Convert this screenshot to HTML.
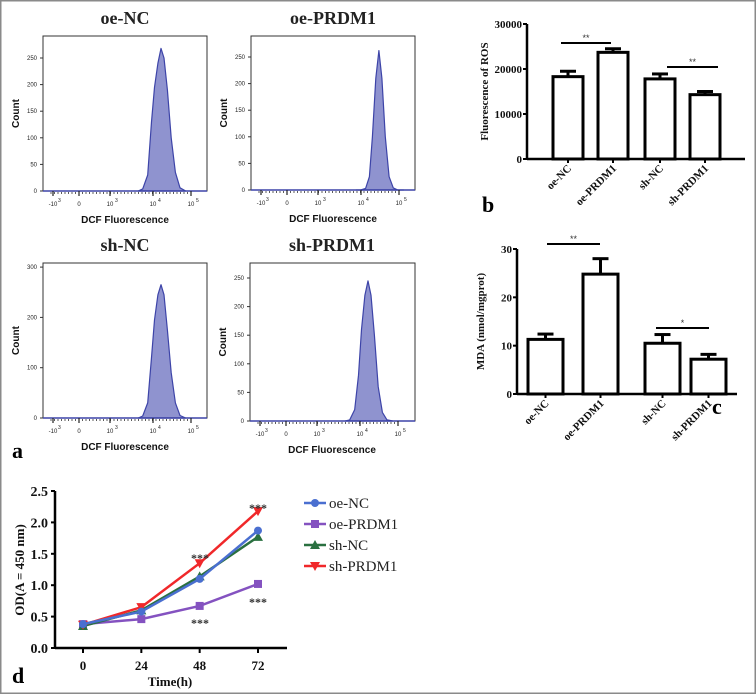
<!DOCTYPE html>
<html><head><meta charset="utf-8"><style>
html,body{margin:0;padding:0;background:#fff}
svg{display:block}
.h{font-family:"Liberation Sans",sans-serif}
.s{font-family:"Liberation Serif",serif;font-weight:bold}
</style></head><body>
<svg id="fig" width="756" height="694" viewBox="0 0 756 694">
<rect x="0.75" y="0.75" width="754.5" height="692.5" fill="#fff" stroke="#8a8a8a" stroke-width="1.5"/>
<g id="hist"></g><g id="bars"></g><g id="line"></g>
<text x="12" y="458" class="s" font-size="22">a</text>
<text x="482" y="212" class="s" font-size="22">b</text>
<text x="712" y="414" class="s" font-size="22">c</text>
<text x="12" y="683" class="s" font-size="22">d</text>
</svg>
<script>
const NS='http://www.w3.org/2000/svg';
function mk(p,t,a,txt){const e=document.createElementNS(NS,t);for(const k in a)e.setAttribute(k,a[k]);if(txt!==undefined)e.textContent=txt;p.appendChild(e);return e;}

// ---- Histogram data ----
const histTitles=['oe-NC','oe-PRDM1','sh-NC','sh-PRDM1'];
const histPeakLog=[4.21,4.47,4.21,4.21];
const histOffsets=[-0.6,-0.48,-0.35,-0.25,-0.17,-0.08,0,0.08,0.17,0.27,0.38,0.5,0.65];
const histCountsOeNC=[0,4,30,130,195,240,268,250,190,100,35,6,0];
const histCountsOePRDM1=[0,0,3,25,100,210,262,210,100,25,4,0,0];
const histCountsShNC=[0,4,30,120,195,245,265,245,175,90,30,5,0];
const histCountsShPRDM1=[0,2,20,80,160,220,245,220,150,60,15,2,0];
const histYTicksA=[0,50,100,150,200,250];
const histYTicksB=[0,100,200,300];
const histXTickLabels=['-10','0','10','10','10'];
const histXTickExp=['3','','3','4','5'];

const H=document.getElementById('hist');
const boxes=[{x:43,y:36,w:164,b:191,tk:histYTicksA,per:26.6/50,c:histCountsOeNC},
 {x:251,y:36,w:164,b:190,tk:histYTicksA,per:26.6/50,c:histCountsOePRDM1},
 {x:43,y:263,w:164,b:418,tk:histYTicksB,per:50.3/100,c:histCountsShNC},
 {x:250,y:263,w:165,b:421,tk:histYTicksA,per:28.6/50,c:histCountsShPRDM1}];
boxes.forEach((bx,i)=>{
  const g=mk(H,'g',{});
  
  
  const xLog=v=>bx.x+110+(v-4)*38;
  const yC=c=>bx.b-c*bx.per;
  mk(g,'text',{x:bx.x+82,y:bx.y-12,'text-anchor':'middle',class:'s','font-size':18,fill:'#222'},histTitles[i]);
  mk(g,'rect',{x:bx.x,y:bx.y,width:bx.w,height:bx.b-bx.y,fill:'none',stroke:'#333','stroke-width':1});
  let d='M'+xLog(histPeakLog[i]+histOffsets[0])+','+bx.b;
  bx.c.forEach((c,j)=>{d+=' L'+xLog(histPeakLog[i]+histOffsets[j]).toFixed(1)+','+yC(c).toFixed(1);});
  d+=' L'+xLog(histPeakLog[i]+histOffsets[histOffsets.length-1])+','+bx.b+'Z';
  const p=mk(g,'path',{d:d,fill:'#8f93cf',stroke:'#3d44a8','stroke-width':1.2,'stroke-linejoin':'round'});
  
  
  mk(g,'line',{x1:bx.x,y1:bx.b,x2:bx.x+bx.w,y2:bx.b,stroke:'#3d44a8','stroke-width':1.5});
  bx.tk.forEach(t=>{const y=yC(t);mk(g,'line',{x1:bx.x-3,y1:y,x2:bx.x,y2:y,stroke:'#333'});
    mk(g,'text',{x:bx.x-6,y:y+2,'text-anchor':'end',class:'h','font-size':6,fill:'#222'},t);});
  mk(g,'text',{x:bx.x-24,y:(bx.y+bx.b)/2,transform:`rotate(-90 ${bx.x-24} ${(bx.y+bx.b)/2})`,'text-anchor':'middle',class:'h','font-size':10,'font-weight':'bold',fill:'#111'},'Count');
  const majors=[bx.x+10,bx.x+36,bx.x+67,xLog(4),xLog(5)];
  for(let k=0;k<40;k++){const x=bx.x+8+k*3.5;if(x>bx.x+155)break;mk(g,'line',{x1:x,y1:bx.b+1,x2:x,y2:bx.b+3,stroke:'#333','stroke-width':0.8});}
  majors.forEach((x,j)=>{mk(g,'line',{x1:x,y1:bx.b,x2:x,y2:bx.b+5,stroke:'#222','stroke-width':1.2});
    mk(g,'text',{x:x,y:bx.b+15,'text-anchor':'middle',class:'h','font-size':6,fill:'#222'},histXTickLabels[j]);
    if(histXTickExp[j])mk(g,'text',{x:x+5,y:bx.b+11,class:'h','font-size':5,fill:'#222'},histXTickExp[j]);});
  mk(g,'text',{x:bx.x+82,y:bx.b+32,'text-anchor':'middle',class:'h','font-size':10,'font-weight':'bold',fill:'#111'},'DCF Fluorescence');
});

// ---- Bar chart data ----
const barCats=['oe-NC','oe-PRDM1','sh-NC','sh-PRDM1'];
const rosValues=[18300,23700,17800,14300];
const rosErrors=[1200,800,1100,700];
const rosTicks=[0,10000,20000,30000];
const mdaValues=[11.3,24.8,10.5,7.2];
const mdaErrors=[1.1,3.2,1.8,1.0];
const mdaTicks=[0,10,20,30];

function barChart(cfg){
  const g=mk(document.getElementById('bars'),'g',{});
  
  
  const y=v=>cfg.y0-(v/cfg.max)*(cfg.y0-cfg.yTop);
  cfg.values.forEach((v,i)=>{
    const x=cfg.bx[i];
    const r=mk(g,'rect',{x:x,y:y(v),width:cfg.bw,height:cfg.y0-y(v),fill:'#fff',stroke:'#000','stroke-width':3});
    
    
    const cx=x+cfg.bw/2,ye=y(v+cfg.errs[i]);
    mk(g,'line',{x1:cx,y1:y(v),x2:cx,y2:ye,stroke:'#000','stroke-width':3});
    mk(g,'line',{x1:cx-8,y1:ye,x2:cx+8,y2:ye,stroke:'#000','stroke-width':3});
    const lx=cx+4,ly=cfg.y0+10;
    mk(g,'text',{x:lx,y:ly,transform:`rotate(-45 ${lx} ${ly})`,'text-anchor':'end',class:'s','font-size':11,fill:'#111'},barCats[i]);
  });
  mk(g,'line',{x1:cfg.ax,y1:cfg.yTop,x2:cfg.ax,y2:cfg.y0,stroke:'#000','stroke-width':2.5});
  mk(g,'line',{x1:cfg.ax,y1:cfg.y0,x2:cfg.axR,y2:cfg.y0,stroke:'#000','stroke-width':2.5});
  cfg.ticks.forEach(t=>{mk(g,'line',{x1:cfg.ax-4,y1:y(t),x2:cfg.ax,y2:y(t),stroke:'#000','stroke-width':2});
    mk(g,'text',{x:cfg.ax-5,y:y(t)+4,'text-anchor':'end',class:'s','font-size':11,fill:'#111'},t);});
  cfg.bx.forEach(x=>mk(g,'line',{x1:x+cfg.bw/2,y1:cfg.y0,x2:x+cfg.bw/2,y2:cfg.y0+4,stroke:'#000','stroke-width':2}));
  mk(g,'text',{x:cfg.lx,y:(cfg.yTop+cfg.y0)/2,transform:`rotate(-90 ${cfg.lx} ${(cfg.yTop+cfg.y0)/2})`,'text-anchor':'middle',class:'s','font-size':11,fill:'#111'},cfg.label);
  cfg.sig.forEach(s=>{mk(g,'line',{x1:s[0],y1:s[2],x2:s[1],y2:s[2],stroke:'#000','stroke-width':2});
    mk(g,'text',{x:(s[0]+s[1])/2,y:s[2]-2,'text-anchor':'middle',class:'h','font-size':9,fill:'#333'},s[3]);});
}
barChart({name:'ros-bar-chart',values:rosValues,errs:rosErrors,ticks:rosTicks,max:30000,y0:159,yTop:24,ax:527,axR:745,bx:[553,598,645,690],bw:30,lx:488,label:'Fluorescence of ROS',sig:[[561,611,43,'**'],[667,718,67,'**']]});
barChart({name:'mda-bar-chart',values:mdaValues,errs:mdaErrors,ticks:mdaTicks,max:30,y0:394,yTop:249,ax:517,axR:737,bx:[528,583,645,691],bw:35,lx:484,label:'MDA (nmol/mgprot)',sig:[[547,600,244,'**'],[656,709,328,'*']]});

// ---- Line chart data ----
const timeCats=[0,24,48,72];
const seriesNames=['oe-NC','oe-PRDM1','sh-NC','sh-PRDM1'];
const odOeNC=[0.38,0.58,1.10,1.87];
const odOePRDM1=[0.38,0.46,0.67,1.02];
const odShNC=[0.35,0.60,1.14,1.77];
const odShPRDM1=[0.37,0.65,1.35,2.18];
const odTicks=[0.0,0.5,1.0,1.5,2.0,2.5];
const seriesColors=['#4a6fd0','#8452c0','#2a7040','#f0282a'];
const L=mk(document.getElementById('line'),'g',{});


const lx=t=>83+(t/72)*175;
const ly=v=>648-(v/2.5)*157;
mk(L,'line',{x1:55,y1:491,x2:55,y2:648,stroke:'#000','stroke-width':2.5});
mk(L,'line',{x1:55,y1:648,x2:287,y2:648,stroke:'#000','stroke-width':2.5});
odTicks.forEach(t=>{mk(L,'line',{x1:51,y1:ly(t),x2:55,y2:ly(t),stroke:'#000','stroke-width':2});
  mk(L,'text',{x:48,y:ly(t)+5,'text-anchor':'end',class:'s','font-size':14,fill:'#111'},t.toFixed(1));});
timeCats.forEach(t=>{mk(L,'line',{x1:lx(t),y1:648,x2:lx(t),y2:653,stroke:'#000','stroke-width':2});
  mk(L,'text',{x:lx(t),y:670,'text-anchor':'middle',class:'s','font-size':13,fill:'#111'},t);});
mk(L,'text',{x:170,y:686,'text-anchor':'middle',class:'s','font-size':13,fill:'#111'},'Time(h)');
mk(L,'text',{x:24,y:570,transform:'rotate(-90 24 570)','text-anchor':'middle',class:'s','font-size':13,fill:'#111'},'OD(A = 450 nm)');
const allSeries=[odOeNC,odOePRDM1,odShNC,odShPRDM1];
function marker(g,i,x,y){
  if(i===0)return mk(g,'circle',{cx:x,cy:y,r:4,fill:seriesColors[i]});
  if(i===1)return mk(g,'rect',{x:x-4,y:y-4,width:8,height:8,fill:seriesColors[i]});
  if(i===2)return mk(g,'path',{d:`M${x},${y-5}L${x+5},${y+4}L${x-5},${y+4}Z`,fill:seriesColors[i]});
  return mk(g,'path',{d:`M${x},${y+5}L${x+5},${y-4}L${x-5},${y-4}Z`,fill:seriesColors[i]});
}
[1,2,3,0].forEach(i=>{
  const g=mk(L,'g',{});
  
  
  mk(g,'polyline',{points:allSeries[i].map((v,j)=>lx(timeCats[j])+','+ly(v)).join(' '),fill:'none',stroke:seriesColors[i],'stroke-width':2.5});
  allSeries[i].forEach((v,j)=>{const m=marker(g,i,lx(timeCats[j]),ly(v));
    
    });
});
[[200,556],[258,506],[200,621],[258,600]].forEach(s=>mk(L,'text',{x:s[0],y:s[1]+6,'text-anchor':'middle',class:'s','font-size':12,fill:'#333'},'***'));
seriesNames.forEach((n,i)=>{
  const y=503+i*21;
  const g=mk(L,'g',{});
  
  
  mk(g,'line',{x1:304,y1:y,x2:326,y2:y,stroke:seriesColors[i],'stroke-width':2.5});
  marker(g,i,315,y);
  mk(g,'text',{x:329,y:y+5,class:'s','font-size':15,fill:'#222',style:'font-weight:normal'},n);
});
</script>
</body></html>
